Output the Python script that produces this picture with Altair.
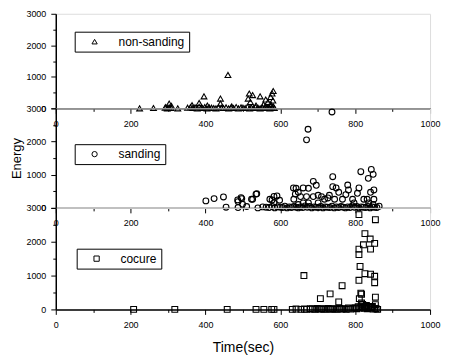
import altair as alt
import pandas as pd

FONT = "Liberation Sans"

# ---------------- non-sanding ----------------
ns_time = [460, 396, 440, 383, 303, 517, 526, 514, 546, 561, 581, 578, 574, 567, 520, 440, 364, 294, 309,
           405, 470, 535, 555, 575, 580,
           224, 261, 292, 298, 303, 308, 326, 352, 360, 366, 372, 378, 383, 388, 392, 398, 404, 410, 416, 422,
           428, 435, 442, 448, 455, 462, 468, 475, 482, 488, 495, 500, 506, 512, 518, 522, 528, 534, 540, 546,
           552, 557, 561, 565, 569, 572, 575, 578, 581, 584]
ns_energy = [1060, 380, 310, 170, 150, 470, 420, 310, 380, 280, 550, 470, 360, 200, 200, 150, 100, 40, 75,
             90, 60, 90, 120, 120, 250,
             0, 10, 20, 0, 30, 10, 0, 20, 40, 10, 30, 0, 50, 20, 10, 40, 0, 30, 20, 10,
             0, 40, 20, 10, 30, 0, 20, 10, 40, 0, 30, 20, 10, 50, 0, 30, 10, 40, 20, 0,
             30, 10, 60, 20, 40, 0, 80, 30, 60, 10]

# ---------------- sanding ----------------
sa_time = [738, 674, 670, 815, 843, 848, 835, 740, 688,
           401, 423, 448, 487, 497, 499, 526, 537, 572, 583, 591, 598,
           642, 661, 675, 696, 701, 688, 670, 654, 648, 636, 740, 756, 749, 780, 782, 775, 793, 806, 810,
           823, 841, 850, 832, 836, 850, 745, 731, 727, 710, 718, 701, 675, 661, 648, 766, 797, 848,
           486, 495, 523, 535, 578, 583, 635, 640,
           455, 487, 510, 540, 553, 562, 570, 578, 585, 592, 600, 606, 612, 618, 624, 630, 636, 642, 648,
           654, 660, 666, 672, 678, 684, 690, 696, 702, 708, 714, 720, 726, 732, 738, 744, 750, 756, 762,
           768, 774, 780, 786, 792, 798, 804, 810, 816, 822, 828, 834, 840, 846, 852, 858, 864]
sa_energy = [2890, 2370, 2050, 1090, 1160, 1010, 890, 940, 800,
             210, 280, 330, 190, 280, 110, 260, 425, 260, 150, 360, 230,
             590, 600, 590, 680, 380, 340, 340, 340, 470, 260, 640, 470, 600, 690, 540, 400, 260, 440, 600,
             260, 470, 540, 260, 150, 260, 260, 380, 300, 340, 260, 150, 150, 150, 100, 260, 150, 100,
             240, 310, 260, 415, 240, 344, 600, 415,
             20, 10, 40, 0, 30, 20, 10, 40, 0, 30, 20, 10, 50, 0, 30, 10, 40, 20, 0,
             30, 10, 60, 20, 40, 0, 30, 20, 10, 40, 0, 30, 20, 10, 50, 0, 30, 10, 40,
             20, 0, 30, 10, 60, 20, 40, 0, 30, 20, 10, 40, 0, 30, 20, 10, 50]

# ---------------- cocure ----------------
co_time = [810, 854, 826, 840, 852, 822, 841, 810, 810, 813, 826, 841, 852, 810, 852, 663, 765, 733,
           707, 756, 815, 817, 811, 854, 817, 854, 846, 830, 825, 820, 836,
           208, 318, 458, 535, 556, 577, 583, 632, 642, 655, 664, 670, 680, 686, 692, 698, 704, 710, 716,
           722, 728, 734, 740, 746, 752, 758, 764, 770, 776, 782, 788, 794, 800, 804, 808, 812, 816, 820,
           824, 828, 832, 836, 840, 844, 848, 852, 856, 860]
co_energy = [2800, 2650, 2240, 2080, 1950, 1910, 1780, 1780, 1620, 1270, 1055, 1040, 980, 860, 790, 1000,
             700, 460, 320, 220, 480, 450, 320, 360, 190, 140, 90, 120, 80, 150, 60,
             0, 0, 0, 0, 0, 0, 0, 0, 10, 0, 10, 0, 20, 10, 0, 30, 10, 20, 0,
             10, 30, 0, 20, 10, 0, 30, 10, 20, 0, 40, 10, 30, 50, 20, 80, 40, 100, 60,
             30, 90, 20, 70, 40, 60, 10, 30, 20, 0]

x_ticks = list(range(0, 1001, 100))
y_ticks = list(range(0, 3001, 500))


def panel(times, energies, name, shape, height, lx, ly, spaces, y_title, x_title):
    df = pd.DataFrame({"time": times, "energy": energies, "series": name})
    x_axis = alt.Axis(
        values=x_ticks, format="d",
        labelExpr="datum.value % 200 == 0 ? datum.label : ''",
        tickSize={"condition": {"test": "datum.value % 200 == 0", "value": 5}, "value": 3},
        labelFlush=False, labelOverlap=False, grid=False,
        domainColor="black", domainWidth=1.5, tickColor="black", tickWidth=1,
        labelColor="black", labelFont=FONT, labelFontSize=9, labelPadding=6,
        titleFont=FONT, titleFontSize=14, titleFontWeight="normal", titleColor="black",
        titlePadding=11,
    )
    y_axis = alt.Axis(
        values=y_ticks, format="d",
        labelExpr="datum.value % 1000 == 0 ? datum.label : ''",
        tickSize={"condition": {"test": "datum.value % 1000 == 0", "value": 5}, "value": 3},
        labelFlush=False, labelOverlap=False, grid=False,
        domainColor="black", domainWidth=1.5, tickColor="black", tickWidth=1,
        labelColor="black", labelFont=FONT, labelFontSize=9, labelPadding=5,
        titleFont=FONT, titleFontSize=13, titleFontWeight="normal", titleColor="black",
        titlePadding=2,
    )
    legend = alt.Legend(
        title=None, orient="none", legendX=lx, legendY=ly,
        strokeColor="black", padding=4, symbolOffset=10, labelOffset=18,
        symbolSize=28, symbolStrokeColor="black", symbolStrokeWidth=1,
        labelFont=FONT, labelFontSize=12, labelColor="black",
        labelExpr="datum.label + '" + " " * spaces + "'",
    )
    return alt.Chart(df).mark_point(filled=False, color="black", size=34, strokeWidth=1.1, opacity=1).encode(
        x=alt.X("time:Q", scale=alt.Scale(domain=[0, 1000], nice=False, zero=False),
                axis=x_axis, title=x_title),
        y=alt.Y("energy:Q", scale=alt.Scale(domain=[0, 3000], nice=False),
                axis=y_axis, title=y_title),
        shape=alt.Shape("series:N", scale=alt.Scale(domain=[name], range=[shape]), legend=legend),
    ).properties(width=376, height=height)


p1 = panel(ns_time, ns_energy, "non-sanding", "triangle-up", 95, 19, 18, 3, None, None)
p2 = panel(sa_time, sa_energy, "sanding", "circle", 100, 19, 36, 2, "Energy", None)
p3 = panel(co_time, co_energy, "cocure", "square", 102, 21, 41, 1, None, "Time(sec)")

chart = alt.vconcat(p1, p2, p3, spacing=0, bounds="flush").resolve_scale(
    x="independent", y="independent", shape="independent"
).resolve_axis(x="independent", y="independent").resolve_legend(shape="independent").properties(
    padding={"left": 2, "top": 0, "right": 0, "bottom": 0}
).configure_view(stroke=None).configure(background="white")

chart.save("out.html", embed_options={"renderer": "svg", "actions": False})
